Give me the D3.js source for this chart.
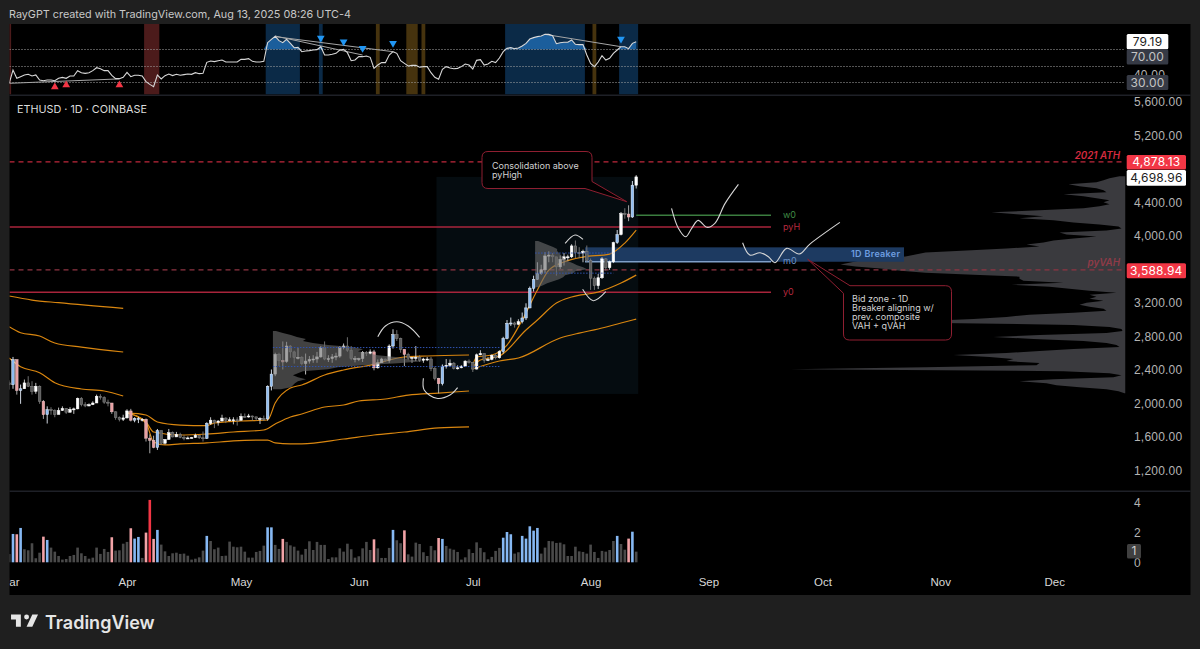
<!DOCTYPE html>
<html>
<head>
<meta charset="utf-8">
<script src="https://cdn.jsdelivr.net/npm/d3@7"></script>
<style>
  html, body { margin: 0; padding: 0; background: #1f1f1f; overflow: hidden; }
  svg { display: block; font-family: Inter, "Liberation Sans", sans-serif; }
  .domain, .tick line { display: none; }
</style>
</head>
<body>
<svg id="chart" width="1200" height="649"></svg>
<script>
// daily candles, 1 Mar 2025 onwards
const opens = [2240,2218,2517,2150,2170,2240,2200,2140,2200,2020,1862,1920,1910,1862,1910,1935,1890,1925,1930,2055,1980,1965,1980,2000,2080,2065,2010,2000,1895,1825,1805,1822,1905,1795,1815,1805,1805,1580,1555,1470,1670,1520,1565,1645,1595,1625,1590,1578,1583,1587,1615,1585,1578,1755,1795,1770,1785,1820,1795,1800,1800,1794,1840,1835,1845,1835,1815,1815,1810,2200,2345,2580,2510,2497,2680,2610,2545,2545,2470,2500,2520,2525,2550,2660,2525,2530,2550,2560,2660,2680,2630,2530,2530,2530,2605,2590,2610,2420,2480,2525,2510,2680,2815,2770,2640,2580,2535,2545,2545,2510,2525,2525,2410,2295,2230,2440,2450,2475,2415,2420,2440,2500,2485,2405,2575,2590,2510,2520,2570,2540,2615,2770,2950,2955,2940,2970,3015,3135,3370,3475,3545,3590,3755,3765,3745,3625,3715,3745,3745,3875,3795,3790,3810,3700,3490,3400,3495,3720,3615,3685,3915,4010,4260,4255,4220,4600];
const highs = [2270,2550,2520,2220,2280,2320,2260,2240,2210,2035,1960,1950,1925,1945,1960,1940,1950,1945,2065,2070,2010,1995,2020,2100,2105,2080,2040,2000,1900,1840,1860,1925,1930,1830,1835,1820,1815,1625,1610,1690,1670,1570,1690,1660,1655,1645,1615,1600,1595,1635,1615,1660,1770,1830,1800,1795,1860,1830,1830,1830,1830,1875,1875,1870,1850,1835,1830,1850,2210,2400,2600,2600,2735,2730,2690,2625,2660,2560,2590,2560,2570,2610,2680,2735,2570,2585,2600,2680,2710,2785,2680,2560,2540,2620,2620,2640,2635,2520,2540,2530,2700,2880,2870,2780,2640,2600,2550,2680,2570,2540,2550,2550,2435,2300,2460,2525,2520,2490,2450,2450,2510,2520,2490,2590,2630,2590,2545,2580,2590,2630,2790,2990,3020,2970,3000,3080,3190,3390,3520,3680,3650,3800,3810,3790,3740,3760,3790,3770,3895,3940,3860,3830,3880,3725,3510,3540,3740,3730,3700,3925,4065,4280,4325,4360,4650,4720];
const lows = [2160,2170,2100,1990,2170,2190,2100,2110,1990,1810,1755,1860,1830,1870,1905,1870,1885,1870,1925,1960,1950,1960,1975,2000,2040,1990,1960,1870,1800,1780,1785,1815,1780,1770,1760,1780,1540,1400,1460,1440,1500,1505,1560,1590,1610,1580,1555,1570,1580,1585,1570,1540,1570,1740,1700,1730,1780,1760,1780,1745,1730,1790,1825,1825,1790,1790,1750,1785,1790,2150,2320,2440,2400,2480,2540,2470,2520,2450,2340,2470,2480,2480,2540,2510,2490,2480,2510,2540,2640,2610,2510,2485,2500,2490,2560,2580,2390,2410,2480,2490,2480,2650,2740,2600,2440,2510,2480,2500,2490,2480,2500,2380,2270,2115,2210,2410,2430,2400,2400,2415,2430,2470,2370,2400,2570,2480,2500,2510,2520,2530,2590,2760,2920,2900,2930,2950,2990,3130,3330,3470,3530,3550,3680,3680,3520,3600,3640,3700,3730,3730,3730,3680,3680,3350,3350,3360,3480,3580,3590,3670,3900,4000,4200,4170,4210,4560];
const closes = [2218,2517,2150,2170,2240,2200,2140,2200,2020,1860,1920,1910,1862,1910,1935,1890,1925,1930,2055,1980,1965,1980,2000,2080,2065,2010,2000,1895,1825,1805,1822,1905,1795,1815,1805,1805,1580,1555,1470,1670,1520,1565,1645,1595,1625,1590,1578,1583,1587,1615,1585,1578,1755,1795,1770,1785,1820,1795,1800,1800,1794,1840,1835,1845,1835,1815,1815,1810,2200,2345,2580,2510,2490,2680,2610,2545,2545,2470,2500,2520,2525,2550,2660,2525,2530,2550,2560,2660,2680,2630,2530,2530,2530,2605,2590,2610,2420,2480,2525,2510,2680,2815,2770,2640,2580,2535,2545,2545,2510,2525,2525,2410,2295,2230,2440,2450,2475,2415,2420,2440,2500,2485,2405,2575,2590,2510,2520,2570,2540,2615,2770,2950,2955,2940,2970,3015,3135,3370,3475,3545,3590,3755,3765,3745,3625,3715,3745,3745,3875,3795,3790,3810,3700,3490,3400,3495,3720,3615,3685,3915,4010,4260,4255,4220,4600,4698.96];
const volumes = [.55,1.89,1.87,2.29,.87,.8,1.27,.27,.64,1.71,1.49,.98,.71,.42,.18,.22,.42,.49,.98,.6,.42,.24,.31,.98,.56,.89,.69,1.67,.78,.8,1.24,1.36,2.27,1.58,1.69,.29,1.98,4.16,1.56,2.16,1.18,.73,.42,.6,.64,.56,.58,.44,.18,.24,.33,.78,1.76,1.42,.87,.98,.42,.44,1.38,1.04,1,1.04,.71,.31,.31,.69,.76,1.11,2.33,2.33,1.16,.89,1.56,1.36,1.13,1.04,.78,.51,.89,1.4,.82,1.36,1.16,1.16,.22,.33,.33,.93,.71,1.24,.87,.31,.4,.93,1.36,.82,1.53,.93,.29,.29,.96,2.16,1.47,1.27,2.13,.53,.38,1.31,1.22,.67,.42,1.09,.8,1.62,1.56,1.09,.91,.84,.69,.18,.33,.87,.62,1.33,.96,.67,.2,.36,.76,.96,1.64,2.02,1.87,.58,.67,1.76,1.58,2.4,2.11,2.29,.58,.98,1.42,1.4,1.29,1.31,1.2,.42,.42,1.04,.73,.69,.58,1.18,.69,.29,.76,.71,.82,1.42,1.76,1.22,.84,1.58,2.04,.71];
const rsiValues = [28.4,44.7,34.5,36.5,38.6,39.4,37.3,38.6,32.4,31.6,32.4,32.4,31.6,34.5,35.7,34.5,37.3,37.3,43.9,41.4,40.6,41.4,43.9,47.5,46.3,43.9,43.9,38.2,34.1,34.1,35.7,41.8,36.5,38.2,38.2,37.3,30.4,27.1,24.3,38.6,33.7,37.8,39.8,37.8,39.4,38.2,39,39.8,39.4,41.4,40.2,40.6,54.1,55.7,54.9,56.1,56.9,54.5,54.5,54.5,54.5,57.7,57.7,58.6,55.3,54.5,54.5,55.3,78.1,82.2,85.9,80.6,78.1,82.2,77.3,72,72.4,67.1,67.9,68.4,69.2,69.6,73.2,63,63,63.9,65.1,69.2,70,65.9,56.1,56.9,61,61,61.8,60.2,46.7,50.8,53.7,53.7,63,67.1,65.1,56.1,52.8,49.6,50.4,50.4,48,48.8,48.8,41.4,35.7,33.3,45.5,48.8,47.1,46.3,46.7,48.8,52,50.8,45.9,56.5,57.3,50.8,52,55.3,53.7,59.4,67.1,71.2,72,70.8,71.6,74.1,77.3,82.6,84.3,85.5,86.3,88.3,88.3,86.7,76.9,78.1,78.6,78.6,81.4,76.1,75.7,75.7,63,52.8,48.8,54.5,62.2,56.9,59,65.1,69.2,73.2,73.2,70.8,77.3,79.19];

// days (index from 1 Mar) that carry a highlighted volume
const blueDays = [1,3,10,33,34,39,52,68,69,101,114,130,131,132,135,136,137,138,139,160,164];
const pinkDays = [2,9,27,32,36,38,72,96,104,113,163];
const redDays = [37];

// rsi background bands, first and last day
const blueBands = [[68,76],[82,82],[131,151],[161,165]];
const amberBands = [[97,97],[105,107],[109,109],[154,154]];
const redBands = [[0,0],[36,39]];

// rsi signals and divergence lines
const upSignalDays = [12,15,29];
const upSignalRsi = [24,26.3,26.3];
const downSignalDays = [82,88,93,101,161];
const downSignalRsi = [83.9,79.3,71.2,77.4,82.7];
const rsiTrendDays = [[0,29],[70,93],[70,101],[141,161]];
const rsiTrendValues = [[28.4,33.8],[86.3,63],[85.5,67.1],[88.3,73.2]];
const rsiLevels = [70,50,30];

// orange bands, three anchored runs
const runA1Days = [0,6,13,30], runA1 = [3277,3229,3197,3130];
const runA2Days = [0,3,8,12,19,30], runA2 = [2911,2839,2800,2716,2668,2609];
const runA3Days = [0,3,8,12,19,25,30], runA3 = [2537,2433,2362,2242,2167,2143,2084];
const runB1Days = [31,36,39,45,52,54,61,68,70,74,77,83,88,95,104,110,121];
const runB1 = [1881,1857,1773,1737,1731,1761,1785,1797,2000,2179,2215,2334,2394,2453,2549,2561,2573];
const runB2Days = [31,36,38,45,52,59,67,70,74,77,83,88,92,99,105,113,121];
const runB2 = [1881,1773,1654,1618,1630,1654,1678,1749,1833,1869,1952,1976,2024,2048,2095,2119,2143];
const runB3Days = [31,36,38,41,45,52,59,68,70,74,77,88,96,104,113,121];
const runB3 = [1881,1761,1535,1499,1511,1523,1547,1558,1523,1511,1511,1570,1618,1654,1702,1714];
const runC1Days = [122,123,127,131,135,139,142,146,151,158,162,165];
const runC1 = [2453,2549,2573,2692,2990,3348,3587,3683,3742,3778,3909,4064];
const runC2Days = [122,124,129,136,139,144,148,155,161,165];
const runC2 = [2430,2513,2561,2871,2990,3193,3265,3325,3432,3527];
const runC3Days = [122,129,134,145,150,155,161,165];
const runC3 = [2406,2501,2537,2776,2835,2883,2955,3002];

// hand drawn white curves
const curveDays = [
  [97,99,102,105,108],
  [109,109.2,112.5,116,118],
  [146.3,148.9,151],
  [150.9,153.7,157],
  [174.3,176.1,178,179.6,181.3,183.6,185.7,188.4,191.9],
  [193,194.9,197.6,199.8,201.5,204.6,207.9,210.7,218.6]
];
const curvePrices = [
  [2791,2919,2970,2919,2784],
  [2295,2155,2056,2095,2183],
  [3906,4005,3953],
  [3357,3221,3328],
  [4323,4085,3984,4085,4180,4097,4145,4383,4610],
  [3913,3766,3794,3746,3674,3846,3778,3897,4156]
];

// volume profiles, widths per price row
const profileStep = 24;
const compositeTop = 4708;
const compositeProfile = [6,16,22,29,57,46,29,22,19,62,42,29,16,22,16,26,42,86,134,109,82,106,72,52,26,7,4,19,66,59,29,52,72,82,99,86,119,159,200,210,220,245,265,275,285,270,245,225,200,152,106,106,102,62,114,76,56,36,9,36,29,36,22,39,46,36,22,19,52,96,119,152,200,185,52,16,4,3,19,86,132,92,42,19,9,6,52,86,119,172,136,112,119,86,89,200,335,62,16,4,12,72,106,79,69,46,19,7,1];
const mayProfileTop = 2859;
const mayProfile = [3,10,18,24,33,30,40,55,80,90,85,95,105,125,135,150,125,90,65,55,30,25,20,25,33,25,22,20,18,8];
const julyProfileTop = 3933;
const julyProfile = [3,8,13,18,22,22,24,26,27,30,33,38,42,48,52,40,38,30,28,24,18,12,8,3];

// levels
const athPrice = 4878.13;
const lastPrice = 4698.96;
const vahPrice = 3588.94;
const pyHighPrice = 4100;
const weekOpenPrice = 4240;
const monthOpenPrice = 3686;
const yearOpenPrice = 3321;
const breakerTop = 3858;
const priceTicks = [5600,5200,4400,4000,3200,2800,2400,2000,1600,1200];
const volumeTicks = [0,2,4];
const rsiTicks = [40];

const svg = d3.select("#chart");
const firstDay = new Date(Date.UTC(2025, 2, 1));
const dayMs = 864e5;
const left = 9.5, right = 1190.5, profileEdge = 1125.5;

const xScale = d3.scaleUtc()
  .domain([firstDay, new Date(Date.UTC(2025, 11, 20))])
  .range([9.2, 1126.4]);
const xDay = (d) => xScale(new Date(+firstDay + d * dayMs));
const bandW = xDay(1) - xDay(0);

const yPrice = d3.scaleLinear().domain([2000, 5600]).range([403, 101.4]);
const yVolume = d3.scaleLinear().domain([0, 4]).range([562.3, 502.3]);
const yRsi = d3.scaleLinear().domain([30, 80]).range([82, 41.15]);

// frame
svg.append("rect").attr("width", 1200).attr("height", 649).attr("fill", "#1f1f1f");
svg.append("rect").attr("x", left).attr("y", 24).attr("width", right - left).attr("height", 571).attr("fill", "#000");
svg.append("rect").attr("x", left).attr("y", 94.5).attr("width", right - left).attr("height", 1.5).attr("fill", "#1e2027");
svg.append("rect").attr("x", left).attr("y", 490.5).attr("width", right - left).attr("height", 1.5).attr("fill", "#1e2027");

const defs = svg.append("defs");
defs.append("clipPath").attr("id", "rsi-clip").append("rect")
  .attr("x", left).attr("y", 24).attr("width", profileEdge - left).attr("height", 70.5);
defs.append("clipPath").attr("id", "main-clip").append("rect")
  .attr("x", left).attr("y", 96).attr("width", profileEdge - left).attr("height", 394.5);
defs.append("clipPath").attr("id", "bottom-clip").append("rect")
  .attr("x", left).attr("y", 492).attr("width", right - left).attr("height", 103);

svg.append("text").attr("x", 9).attr("y", 18).attr("fill", "#c8c8c8")
  .attr("font-size", 10.8)
  .text("RayGPT created with TradingView.com, Aug 13, 2025 08:26 UTC-4");

// rsi pane
const rsiG = svg.append("g").attr("clip-path", "url(#rsi-clip)");
const addBands = (bands, color) => {
  rsiG.selectAll(null).data(bands).join("rect")
    .attr("x", (d) => xDay(d[0]) - bandW / 2)
    .attr("y", 24)
    .attr("width", (d) => xDay(d[1]) - xDay(d[0]) + bandW)
    .attr("height", 70.5)
    .attr("fill", color);
};
addBands(blueBands, "#0b2a47");
addBands(amberBands, "#46330e");
addBands(redBands, "#4c1b1b");

const rsiArea = d3.area()
  .x((d, i) => xDay(i))
  .y0(yRsi(70))
  .y1((d) => yRsi(Math.max(d, 70)));
rsiG.append("path").datum(rsiValues).attr("d", rsiArea).attr("fill", "#1b5e9c");

rsiG.selectAll(null).data(rsiLevels).join("line")
  .attr("x1", left).attr("x2", profileEdge)
  .attr("y1", (d) => Math.round(yRsi(d)) + 0.5).attr("y2", (d) => Math.round(yRsi(d)) + 0.5)
  .attr("stroke", "#a8a8a8").attr("stroke-dasharray", "1 2");

rsiTrendDays.forEach((days, k) => {
  rsiG.append("line")
    .attr("x1", xDay(days[0])).attr("x2", xDay(days[1]))
    .attr("y1", yRsi(rsiTrendValues[k][0])).attr("y2", yRsi(rsiTrendValues[k][1]))
    .attr("stroke", "#a6a6a6").attr("stroke-width", 1);
});

const rsiLine = d3.line().x((d, i) => xDay(i)).y((d) => yRsi(d));
rsiG.append("path").datum(rsiValues).attr("d", rsiLine)
  .attr("fill", "none").attr("stroke", "#d8d8d8").attr("stroke-width", 1.1);

const triangle = d3.symbol().type(d3.symbolTriangle).size(26);
rsiG.selectAll(null).data(upSignalDays).join("path")
  .attr("d", triangle)
  .attr("transform", (d, i) => "translate(" + xDay(d) + "," + yRsi(upSignalRsi[i]) + ")")
  .attr("fill", "#f23645");
rsiG.selectAll(null).data(downSignalDays).join("path")
  .attr("d", triangle)
  .attr("transform", (d, i) => "translate(" + xDay(d) + "," + yRsi(downSignalRsi[i]) + ") rotate(180)")
  .attr("fill", "#2196f3");

// main pane
const mainG = svg.append("g").attr("clip-path", "url(#main-clip)");

mainG.append("rect")
  .attr("x", 436.5).attr("width", xDay(165) + 2 - 436.5)
  .attr("y", yPrice(lastPrice)).attr("height", yPrice(2108) - yPrice(lastPrice))
  .attr("fill", "#050c10");

// one shape per profile, rows run down from the top price
const addProfile = (rows, top, x0, dir, color, opacity) => {
  const shape = d3.area()
    .y((d, i) => yPrice(top - i * profileStep))
    .x0(x0)
    .x1((d) => x0 + dir * d);
  mainG.append("path").datum(rows).attr("d", shape)
    .attr("fill", color).attr("fill-opacity", opacity);
};
addProfile(compositeProfile, compositeTop, profileEdge, -1, "#3a3a3e", 1);

// levels
const addLevel = (startX, endX, price, color, dash, width) => {
  const y = yPrice(price);
  mainG.append("line")
    .attr("x1", startX).attr("x2", endX)
    .attr("y1", y).attr("y2", y)
    .attr("stroke", color).attr("stroke-width", width)
    .attr("stroke-dasharray", dash);
};
addLevel(left, 771, pyHighPrice, "#a8243b", null, 1.5);
addLevel(left, 771, yearOpenPrice, "#a8243b", null, 1.5);
addLevel(xDay(165), 771, weekOpenPrice, "#3b7d3f", null, 1.5);
addLevel(left, profileEdge, athPrice, "#c0283c", "5 4", 1.2);
addLevel(left, profileEdge, vahPrice, "#8f3443", "5 4", 1.2);

// 1D breaker
mainG.append("rect")
  .attr("x", 585).attr("width", 319)
  .attr("y", yPrice(breakerTop)).attr("height", yPrice(monthOpenPrice) - yPrice(breakerTop))
  .attr("fill", "#1d3a61");
addLevel(585, 771, monthOpenPrice, "#7f9fc9", null, 1.4);

// orange bands
const bandLine = d3.line()
  .x((d) => xDay(d[0]))
  .y((d) => yPrice(d[1]))
  .curve(d3.curveMonotoneX);
[[runA1Days, runA1], [runA2Days, runA2], [runA3Days, runA3],
 [runB1Days, runB1], [runB2Days, runB2], [runB3Days, runB3],
 [runC1Days, runC1], [runC2Days, runC2], [runC3Days, runC3]].forEach((run) => {
  mainG.append("path").datum(d3.zip(run[0], run[1])).attr("d", bandLine)
    .attr("fill", "none").attr("stroke", "#d9860f").attr("stroke-width", 1.2);
});

// candles
const candleKind = (i) => {
  if (blueDays.includes(i)) return "blue";
  if (pinkDays.includes(i) || redDays.includes(i)) return "pink";
  return closes[i] >= opens[i] ? "up" : "down";
};
const bodyColors = { blue: "#8fbdf2", pink: "#e9a0a3", up: "#ffffff", down: "#5a5a5a" };
const wickColors = { blue: "#e6eef8", pink: "#b9b9b9", up: "#d6d6d6", down: "#7a7a7a" };
const bodyStrokes = { blue: "#eaf2fb", pink: "#f0c4c6", up: "#ffffff", down: "#8a8a8a" };

const candles = mainG.selectAll(".candle").data(closes).join("g").attr("class", "candle");
candles.append("line")
  .attr("x1", (d, i) => xDay(i)).attr("x2", (d, i) => xDay(i))
  .attr("y1", (d, i) => yPrice(highs[i])).attr("y2", (d, i) => yPrice(lows[i]))
  .attr("stroke", (d, i) => wickColors[candleKind(i)]).attr("stroke-width", 0.9);
candles.append("rect")
  .attr("x", (d, i) => xDay(i) - 1.3)
  .attr("width", 2.6)
  .attr("y", (d, i) => yPrice(Math.max(opens[i], d)))
  .attr("height", (d, i) => Math.max(1, Math.abs(yPrice(opens[i]) - yPrice(d))))
  .attr("fill", (d, i) => bodyColors[candleKind(i)])
  .attr("stroke", (d, i) => bodyStrokes[candleKind(i)])
  .attr("stroke-width", 0.5);

// fixed range profiles sit over the candles
addProfile(mayProfile, mayProfileTop, xDay(69.4), 1, "#6a6a6a", 0.62);
addProfile(julyProfile, julyProfileTop, xDay(138.4), 1, "#6a6a6a", 0.62);

const addDotted = (startDay, endDay, price) => {
  mainG.append("line")
    .attr("x1", xDay(startDay)).attr("x2", xDay(endDay))
    .attr("y1", yPrice(price)).attr("y2", yPrice(price))
    .attr("stroke", "#2f52b0").attr("stroke-dasharray", "1.5 1.5");
};
addDotted(69.4, 129, 2662);
addDotted(69.4, 129, 2435);
addDotted(138.4, 159, 3790);
addDotted(138.4, 159, 3550);

// white curves
const drawnCurve = d3.line()
  .x((d) => xDay(d[0]))
  .y((d) => yPrice(d[1]))
  .curve(d3.curveCatmullRom.alpha(0.5));
curveDays.forEach((days, k) => {
  mainG.append("path").datum(d3.zip(days, curvePrices[k])).attr("d", drawnCurve)
    .attr("fill", "none").attr("stroke", "#d6d6d6").attr("stroke-width", 1.1);
});

// line labels
const addLabel = (x, y, txt, color, extra) => {
  const t = mainG.append("text").attr("x", x).attr("y", y).attr("fill", color)
    .attr("font-size", 9).attr("dominant-baseline", "middle").text(txt);
  if (extra) extra(t);
};
addLabel(783, yPrice(weekOpenPrice), "w0", "#3f8a45");
addLabel(783, yPrice(pyHighPrice), "pyH", "#b5293f");
addLabel(783, yPrice(monthOpenPrice), "m0", "#6d93c6");
addLabel(783, yPrice(yearOpenPrice), "y0", "#b5293f");
addLabel(851, yPrice(3772), "1D Breaker", "#6f9ee0", (t) => t.attr("letter-spacing", 0.3).attr("font-weight", 600));
addLabel(1120, 156, "2021 ATH", "#d42a3f", (t) => t.attr("text-anchor", "end").attr("font-style", "italic").attr("font-weight", 600).attr("font-size", 9.8));
addLabel(1120, 263, "pyVAH", "#8f3b48", (t) => t.attr("text-anchor", "end").attr("font-style", "italic").attr("font-weight", 600).attr("font-size", 9.8));

// callouts
const callout = (pathD, lines, x, startY) => {
  mainG.append("path").attr("d", pathD).attr("fill", "#000")
    .attr("stroke", "#8f1f31").attr("stroke-width", 1);
  mainG.selectAll(null).data(lines).join("text")
    .attr("x", x).attr("y", (d, i) => startY + i * 9.1)
    .attr("fill", "#d2d2d2").attr("font-size", 9).text((d) => d);
};
callout("M488,151.5 H586 Q592,151.5 592,157.5 V181.5 L626.7,201.7 L585,188.5 H488 Q482,188.5 482,182.5 V157.5 Q482,151.5 488,151.5 Z",
  ["Consolidation above", "pyHigh"], 492, 168.5);
callout("M807.7,259.3 L850,285.7 H945.5 Q951.5,285.7 951.5,291.7 V334 Q951.5,340 945.5,340 H849.5 Q843.5,340 843.5,334 V293.3 Z",
  ["Bid zone - 1D", "Breaker aligning w/", "prev. composite", "VAH + qVAH"], 852, 302);

svg.append("text").attr("x", 17).attr("y", 113).attr("fill", "#dcdcdc")
  .attr("font-size", 10.8).text("ETHUSD · 1D · COINBASE");

// volume pane
const volColor = (i) => {
  if (redDays.includes(i)) return "#f23645";
  if (blueDays.includes(i)) return "#86b8f3";
  if (pinkDays.includes(i)) return "#f2a3a7";
  return "#4a4a4a";
};
svg.append("g").attr("clip-path", "url(#bottom-clip)")
  .selectAll("rect").data(volumes).join("rect")
  .attr("x", (d, i) => xDay(i) - 1.3)
  .attr("width", 2.6)
  .attr("y", (d) => yVolume(d))
  .attr("height", (d) => yVolume(0) - yVolume(d))
  .attr("fill", (d, i) => volColor(i));

// time axis
const xAxis = d3.axisBottom(xScale)
  .ticks(d3.utcMonth.every(1))
  .tickSize(0)
  .tickFormat(d3.utcFormat("%b"));
svg.append("g").attr("clip-path", "url(#bottom-clip)")
  .append("g").attr("transform", "translate(0,574)").call(xAxis)
  .call((g) => g.selectAll("text").attr("fill", "#d8d8d8").attr("font-size", 11.5).attr("font-weight", 500).attr("dy", "0.8em"));

// right scales
const styleScale = (g) => g.selectAll("text")
  .attr("fill", "#b4b4b4").attr("font-size", 12).attr("letter-spacing", 0.2).attr("x", 0).attr("dy", "0.35em");
const priceAxis = d3.axisRight(yPrice).tickValues(priceTicks).tickSize(0).tickFormat(d3.format(",.2f"));
svg.append("g").attr("transform", "translate(1134,0)").call(priceAxis).call(styleScale);
const volumeAxis = d3.axisRight(yVolume).tickValues(volumeTicks).tickSize(0).tickFormat(d3.format("d"));
svg.append("g").attr("transform", "translate(1134,0)").call(volumeAxis).call(styleScale);
const rsiAxis = d3.axisRight(yRsi).tickValues(rsiTicks).tickSize(0).tickFormat(d3.format(".2f"));
svg.append("g").attr("transform", "translate(1134,0)").call(rsiAxis).call(styleScale);

const addTag = (x, y, w, h, fill, color, txt) => {
  svg.append("rect").attr("x", x).attr("y", y).attr("width", w).attr("height", h).attr("rx", 1.5).attr("fill", fill);
  svg.append("text").attr("x", x + w / 2).attr("y", y + h / 2).attr("text-anchor", "middle")
    .attr("dy", "0.35em").attr("fill", color).attr("font-size", 12).attr("letter-spacing", 0.2).text(txt);
};
const priceFmt = d3.format(",.2f");
addTag(1126.7, 155, 59.3, 14.5, "#f23645", "#fff", priceFmt(athPrice));
addTag(1126.7, 170, 59.3, 15.7, "#ffffff", "#222", priceFmt(lastPrice));
addTag(1126.7, 263.3, 59.3, 15, "#f23645", "#fff", priceFmt(vahPrice));
addTag(1126.7, 34, 41.6, 15.3, "#ffffff", "#222", d3.format(".2f")(rsiValues[165]));
addTag(1126.7, 49.3, 41.6, 15.3, "#363a45", "#c4c4c4", d3.format(".2f")(70));
addTag(1126.7, 75, 41.6, 15, "#363a45", "#c4c4c4", d3.format(".2f")(30));
addTag(1127, 544, 14, 14.5, "#404040", "#d0d0d0", d3.format(".0f")(volumes[165]));

// logo
svg.append("path")
  .attr("d", "M14 6H2v6h6v9h6V6Zm14 15h-7l7-15h7l-7 15Zm-7-9a3 3 0 1 0 0-6 3 3 0 0 0 0 6Z")
  .attr("transform", "translate(9.4,609.6) scale(0.818)")
  .attr("fill", "#e6e6e6");
svg.append("text").attr("x", 45).attr("y", 628.5).attr("fill", "#e6e6e6")
  .attr("font-size", 18).attr("font-weight", 600).text("TradingView");
</script>
</body>
</html>
